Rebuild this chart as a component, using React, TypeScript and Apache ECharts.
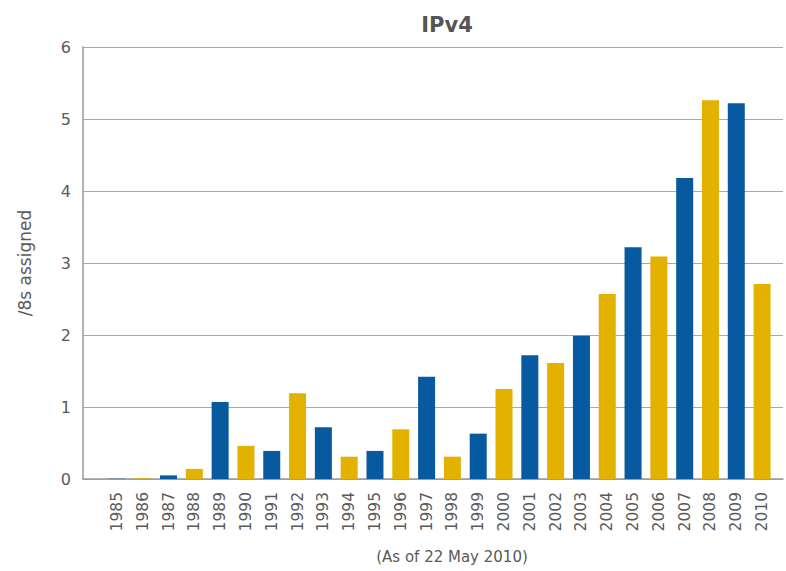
import React, { useEffect, useRef } from "react";
import * as echarts from "echarts";

const years = [
  "1985", "1986", "1987", "1988", "1989", "1990", "1991", "1992", "1993",
  "1994", "1995", "1996", "1997", "1998", "1999", "2000", "2001", "2002",
  "2003", "2004", "2005", "2006", "2007", "2008", "2009", "2010",
];
const assigned = [
  0.005, 0.01, 0.05, 0.14, 1.07, 0.46, 0.39, 1.19, 0.72,
  0.31, 0.39, 0.69, 1.42, 0.31, 0.63, 1.25, 1.72, 1.61,
  1.99, 2.57, 3.22, 3.09, 4.18, 5.26, 5.22, 2.71,
];
const yTicks = [0, 1, 2, 3, 4, 5, 6];

const BLUE = "#075a9f";
const GOLD = "#e3b100";
const FONT = "'DejaVu Sans', sans-serif";
const TEXT = "#5a5a5a";

export default function App() {
  const ref = useRef<HTMLDivElement>(null);
  useEffect(() => {
    document.body.style.margin = "0";
    if (!ref.current) return;
    const chart = echarts.init(ref.current, null, { renderer: "svg" });
    chart.setOption({
      animation: false,
      backgroundColor: "#ffffff",
      title: {
        text: "IPv4",
        left: 442,
        top: 9,
        textAlign: "center",
        textStyle: { fontFamily: FONT, fontSize: 21, fontWeight: "bold", color: "#555" },
      },
      graphic: [
        {
          type: "text",
          x: 452,
          y: 557,
          style: {
            text: "(As of 22 May 2010)",
            fontFamily: FONT,
            fontSize: 15,
            fill: TEXT,
            align: "center",
            verticalAlign: "middle",
          },
        },
      ],
      grid: [
        { left: 83, right: 3, top: 47, bottom: 92 },
        { left: 104, right: 11, top: 47, bottom: 92 },
      ],
      xAxis: [
        {
          type: "category",
          gridIndex: 0,
          data: [""],
          axisLine: { show: true, lineStyle: { color: "#9a9a9a", width: 1.5 } },
          axisTick: { show: false },
          axisLabel: { show: false },
        },
        {
          type: "category",
          gridIndex: 1,
          data: years,
          axisLine: { show: false },
          axisTick: { show: false },
          axisLabel: {
            rotate: 90,
            margin: 13,
            fontFamily: FONT,
            fontSize: 15.5,
            color: TEXT,
          },
        },
      ],
      yAxis: [
        {
          type: "value",
          gridIndex: 0,
          min: yTicks[0],
          max: yTicks[yTicks.length - 1],
          interval: 1,
          name: "/8s assigned",
          nameLocation: "middle",
          nameGap: 50,
          nameTextStyle: { fontFamily: FONT, fontSize: 17, color: TEXT },
          axisLine: { show: true, lineStyle: { color: "#9a9a9a", width: 1.5 } },
          axisTick: { show: false },
          axisLabel: { margin: 12, fontFamily: FONT, fontSize: 16, color: TEXT },
          splitLine: { show: true, lineStyle: { color: "#a8a8a8", width: 1.2 } },
        },
        {
          type: "value",
          gridIndex: 1,
          min: 0,
          max: 6,
          show: false,
        },
      ],
      series: [
        {
          type: "bar",
          xAxisIndex: 1,
          yAxisIndex: 1,
          barWidth: 17,
          data: assigned.map((v, i) => ({
            value: v,
            itemStyle: { color: Number(years[i]) % 2 === 1 ? BLUE : GOLD },
          })),
        },
      ],
    });
    return () => chart.dispose();
  }, []);
  return <div ref={ref} style={{ width: 786, height: 571 }} />;
}
